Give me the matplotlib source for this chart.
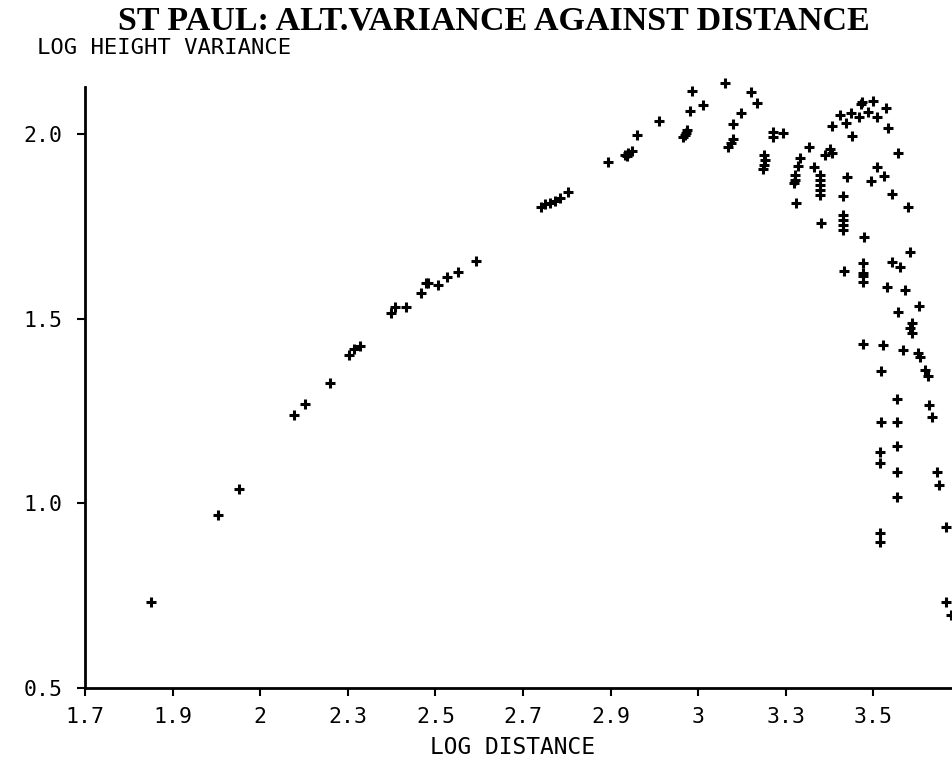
import matplotlib
matplotlib.use("Agg")
import matplotlib.pyplot as plt

# log distance
log_distance = [
    1.851, 2.004, 2.052, 2.177, 2.202, 2.259, 2.303, 2.314, 2.328, 2.399,
    2.408, 2.433, 2.467, 2.479, 2.483, 2.506, 2.526, 2.552, 2.593,
    2.741, 2.750, 2.762, 2.773, 2.784, 2.803,
    2.894, 2.933, 2.940, 2.949, 2.937, 2.960, 3.011, 3.065, 3.072, 3.074,
    3.070, 3.081, 3.086, 3.111, 3.161, 3.168, 3.175, 3.179, 3.179, 3.198,
    3.221, 3.234,
    3.271, 3.271, 3.294, 3.250, 3.253, 3.250, 3.248, 3.332, 3.328, 3.321,
    3.321, 3.319, 3.323, 3.353, 3.364, 3.378, 3.378, 3.378, 3.378, 3.378,
    3.380, 3.401, 3.405, 3.389, 3.405, 3.424, 3.437, 3.449, 3.451, 3.440,
    3.431, 3.431, 3.431, 3.431, 3.431, 3.467, 3.472, 3.474, 3.488, 3.499,
    3.508, 3.529, 3.533, 3.556, 3.508, 3.524, 3.495, 3.542, 3.579, 3.479,
    3.584, 3.433, 3.476, 3.476, 3.476, 3.476, 3.542, 3.561, 3.531, 3.572,
    3.604, 3.556, 3.584, 3.588, 3.588, 3.476, 3.522, 3.568, 3.602, 3.606,
    3.517, 3.618, 3.625, 3.554, 3.627, 3.634, 3.517, 3.554, 3.554, 3.515,
    3.515, 3.554, 3.645, 3.650, 3.554, 3.666, 3.515, 3.515, 3.666, 3.677,
]

# log height variance
log_height_variance = [
    0.733, 0.968, 1.039, 1.239, 1.269, 1.326, 1.402, 1.418, 1.426, 1.515,
    1.532, 1.532, 1.570, 1.597, 1.597, 1.591, 1.613, 1.626, 1.656,
    1.802, 1.811, 1.813, 1.819, 1.827, 1.843,
    1.924, 1.943, 1.949, 1.954, 1.941, 1.997, 2.035, 1.992, 2.003, 2.011,
    1.997, 2.062, 2.117, 2.079, 2.138, 1.965, 1.976, 1.987, 2.027, 2.057,
    2.114, 2.084,
    2.006, 1.992, 2.003, 1.943, 1.930, 1.916, 1.905, 1.935, 1.913, 1.889,
    1.876, 1.867, 1.813, 1.965, 1.911, 1.889, 1.876, 1.862, 1.849, 1.835,
    1.759, 1.960, 1.949, 1.943, 2.022, 2.052, 2.030, 2.057, 1.995, 1.884,
    1.832, 1.781, 1.767, 1.754, 1.740, 2.046, 2.081, 2.087, 2.060, 2.089,
    2.046, 2.071, 2.016, 1.949, 1.911, 1.886, 1.873, 1.838, 1.802, 1.721,
    1.681, 1.629, 1.651, 1.624, 1.616, 1.599, 1.654, 1.640, 1.586, 1.578,
    1.534, 1.518, 1.475, 1.488, 1.461, 1.431, 1.429, 1.415, 1.407, 1.396,
    1.358, 1.361, 1.345, 1.283, 1.266, 1.234, 1.220, 1.220, 1.155, 1.139,
    1.109, 1.085, 1.085, 1.050, 1.017, 0.936, 0.920, 0.895, 0.733, 0.698,
]

x_ticks = [1.7, 1.9, 2.1, 2.3, 2.5, 2.7, 2.9, 3.1, 3.3, 3.5]
x_tick_labels = ["1.7", "1.9", "2", "2.3", "2.5", "2.7", "2.9", "3", "3.3", "3.5"]
y_ticks = [0.5, 1.0, 1.5, 2.0]
y_tick_labels = ["0.5", "1.0", "1.5", "2.0"]

mono = "DejaVu Sans Mono"

fig = plt.figure(figsize=(9.52, 7.6), dpi=100)
ax = fig.add_axes([85 / 952, 1 - 688 / 760, 1 - 85 / 952, (688 - 87) / 760])

ax.plot(log_distance, log_height_variance, linestyle="none", marker="+",
        color="black", markersize=7.5, markeredgewidth=2.2, clip_on=False)

ax.set_xlim(1.7, 1.7 + (952 - 85) / 438)
ax.set_ylim(0.5, 0.5 + (688 - 87) / 369.3)

for s in ("top", "right"):
    ax.spines[s].set_visible(False)
for s in ("left", "bottom"):
    ax.spines[s].set_linewidth(2.0)
    ax.spines[s].set_color("black")

ax.set_xticks(x_ticks)
ax.set_xticklabels(x_tick_labels, fontfamily=mono, fontsize=15.5)
ax.set_yticks(y_ticks)
ax.set_yticklabels(y_tick_labels, fontfamily=mono, fontsize=15.5)
ax.tick_params(axis="both", direction="out", length=6, width=1.5, colors="black")
ax.tick_params(axis="x", pad=8)
ax.tick_params(axis="y", pad=10)

fig.text(494 / 952, 1 - 30 / 760, "ST PAUL: ALT.VARIANCE AGAINST DISTANCE",
         ha="center", va="baseline", fontfamily="Liberation Serif",
         fontweight="bold", fontsize=24.5)
fig.text(37 / 952, 1 - 54 / 760, "LOG HEIGHT VARIANCE", ha="left", va="baseline",
         fontfamily=mono, fontsize=16)
fig.text(512 / 952, 1 - 748 / 760, "LOG DISTANCE", ha="center", va="center",
         fontfamily=mono, fontsize=16.5)

fig.savefig("out.png", dpi=100, facecolor="white")
